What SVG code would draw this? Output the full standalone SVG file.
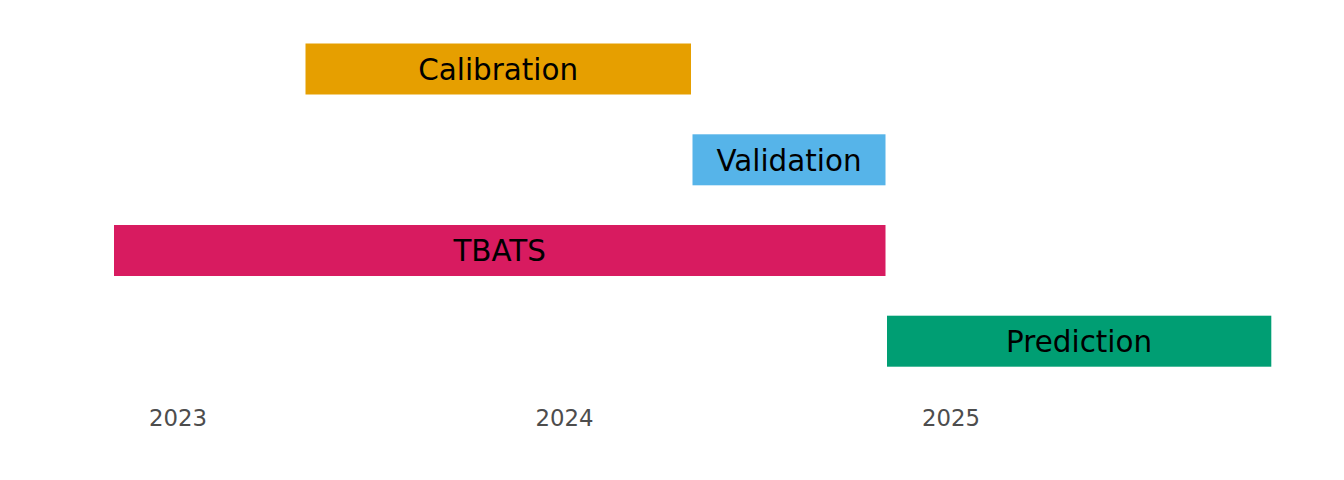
<svg xmlns="http://www.w3.org/2000/svg" width="1344" height="480" viewBox="0 0 1344 480">
<style>
.lbl{font-family:"DejaVu Sans",sans-serif;font-size:29.4px;fill:#000;text-anchor:middle}
.ax{font-family:"DejaVu Sans",sans-serif;font-size:22.8px;fill:#4D4D4D;text-anchor:middle}
</style>
<rect width="1344" height="480" fill="#fff"/>
<g id="calibration">
<rect x="305.5" y="43.5" width="385.5" height="51" fill="#E69F00"/>
<text class="lbl" x="498.2" y="79.8">Calibration</text>
</g>
<g id="validation">
<rect x="692.5" y="134.3" width="193" height="51" fill="#56B4E9"/>
<text class="lbl" x="789" y="170.6">Validation</text>
</g>
<g id="tbats">
<rect x="114" y="225" width="771.5" height="51" fill="#D81B60"/>
<text class="lbl" x="499.7" y="261.3">TBATS</text>
</g>
<g id="prediction">
<rect x="887" y="315.7" width="384.3" height="51" fill="#009E73"/>
<text class="lbl" x="1079.1" y="352">Prediction</text>
</g>
<g id="axis">
<text class="ax" x="178" y="425.7">2023</text>
<text class="ax" x="564.5" y="425.7">2024</text>
<text class="ax" x="951" y="425.7">2025</text>
</g>
<g id="connectors"></g>
</svg>
